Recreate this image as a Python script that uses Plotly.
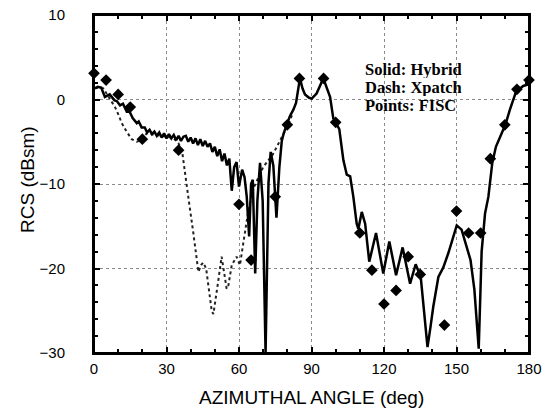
import plotly.graph_objects as go

# Hybrid (solid)
hyb_ang = [0.4, 1.5, 3.0, 4.5, 6.5, 8.5, 9.5, 10.8, 12.0, 13.5, 14.5, 16.0, 17.7, 18.5, 19.7,
           21.0, 22.0, 23.0, 24.0, 25.0, 26.0, 27.0, 28.0, 29.0, 30.0, 31.0, 32.0, 33.0, 34.0,
           35.0, 36.0, 37.0, 38.0, 39.0, 40.0, 41.0, 42.0, 43.0, 44.0, 45.0, 46.0, 47.0, 48.0,
           49.0, 50.0, 51.0, 52.0, 53.0, 54.0, 55.0, 56.0, 57.0, 58.0, 59.0, 60.0, 61.3, 62.3,
           63.2, 64.2, 65.0, 65.7, 66.7, 67.6, 68.7, 69.8, 71.0, 72.2, 73.1, 74.2, 75.5, 76.7,
           77.7, 78.5, 79.7, 81.0, 82.5, 83.6, 85.2, 86.3, 87.3, 89.0, 90.1, 92.1, 94.9, 96.5,
           97.7, 99.0, 100.5, 101.5, 103.2, 104.6, 106.0, 107.3, 108.7, 109.4, 110.8, 112.2,
           113.9, 116.7, 119.7, 122.2, 125.0, 127.7, 130.8, 133.1, 135.2, 136.6, 138.0, 139.2,
           140.4, 142.5, 144.5, 146.6, 148.5, 150.1, 152.1, 154.2, 155.8, 157.4, 158.6, 159.2,
           160.4, 161.8, 163.2, 164.8, 166.3, 168.0, 170.2, 172.1, 174.6, 177.6, 180.0]
hyb_val = [1.3, 1.5, 1.4, 0.3, 0.6, -0.1, -0.2, -0.7, -0.5, -1.4, -1.3, -2.2, -2.8, -2.6, -3.3,
           -3.3, -3.9, -3.6, -4.1, -3.8, -4.3, -3.9, -4.5, -4.0, -4.6, -4.1, -4.6, -4.2, -4.8,
           -4.3, -4.9, -4.4, -4.3, -5.0, -4.5, -5.2, -4.6, -5.4, -4.7, -5.5, -4.9, -5.6, -5.2,
           -6.2, -5.6, -6.7, -5.9, -7.3, -6.4, -7.8, -7.0, -10.8, -8.0, -7.4, -10.3, -8.3, -9.2,
           -11.5, -16.2, -10.0, -9.5, -20.6, -12.0, -7.5, -12.0, -30.0, -9.9, -6.2, -7.8, -14.0, -8.0,
           -4.9, -4.0, -3.1, -2.0, -1.2, -0.4, 2.5, 1.3, 0.6, 0.2, 0.1, 0.7, 2.5, 1.2,
           0.3, -2.2, -2.9, -3.5, -7.2, -8.9, -9.1, -11.5, -14.7, -15.3, -13.3, -14.7,
           -19.2, -15.8, -20.6, -16.8, -20.8, -17.5, -21.8, -19.5, -21.0, -25.0, -29.3, -27.0,
           -24.5, -21.0, -19.9, -18.2, -16.3, -14.9, -15.4, -17.4, -19.0, -22.5, -26.9, -29.5,
           -18.0, -13.5, -11.5, -7.5, -5.6, -4.4, -3.0, -1.2, 0.9, 1.6, 1.8]

# Xpatch (dash)
xp_ang = [0.4, 2.0, 3.9, 5.3, 6.6, 8.7, 10.1, 11.5, 13.5, 15.6, 17.7, 19.7, 21.8, 24.0, 27.0,
          30.0, 33.0, 35.0, 36.5, 37.7, 39.0, 41.1, 43.2, 44.3, 45.2, 46.4, 47.5, 48.7, 49.4,
          50.5, 51.4, 52.8, 53.8, 54.9, 55.6, 57.0, 59.0, 60.4, 61.5, 62.5, 63.8, 66.0, 70.0,
          74.0, 77.0, 80.0, 82.0]
xp_val = [1.4, 1.4, 1.3, 0.7, 0.1, -0.9, -1.8, -2.8, -3.8, -4.7, -5.0, -4.8, -4.0, -4.1, -4.2,
          -4.4, -4.6, -5.2, -6.2, -8.5, -11.5, -15.8, -20.4, -19.6, -19.3, -20.0, -22.5, -25.0, -25.4,
          -23.5, -21.5, -18.6, -20.5, -22.4, -22.0, -19.6, -18.6, -19.6, -17.5, -15.8, -13.3, -10.5, -8.0,
          -6.5, -4.9, -3.2, -1.8]

# FISC (points)
fisc_ang = [0, 5, 10, 15, 20, 35, 60, 65, 75, 80, 85, 95, 100, 110, 115, 120, 125, 130, 135,
            145, 150, 155, 160, 164, 170, 175, 180]
fisc_val = [3.1, 2.3, 0.6, -0.9, -4.7, -6.0, -12.4, -19.0, -11.5, -3.0, 2.5, 2.5, -2.7, -15.8,
            -20.2, -24.2, -22.6, -18.6, -20.7, -26.7, -13.2, -15.8, -15.8, -7.0, -3.0, 1.2, 2.3]

x_ticks = [0, 30, 60, 90, 120, 150, 180]
y_ticks = [-30, -20, -10, 0, 10]
legend_lines = ["Solid: Hybrid", "Dash: Xpatch", "Points: FISC"]

fig = go.Figure()
fig.add_trace(go.Scatter(x=xp_ang, y=xp_val, mode="lines",
                         line=dict(color="#222", width=2, dash="dot"), showlegend=False))
fig.add_trace(go.Scatter(x=hyb_ang, y=hyb_val, mode="lines",
                         line=dict(color="black", width=2.5), showlegend=False))
fig.add_trace(go.Scatter(x=fisc_ang, y=fisc_val, mode="markers",
                         marker=dict(symbol="diamond", size=9, color="black"), showlegend=False,
                         cliponaxis=False))

axis_common = dict(showline=True, linecolor="black", linewidth=2, mirror="ticks",
                   ticks="inside", ticklen=6, tickwidth=1.5, tickcolor="black",
                   showgrid=True, gridcolor="#8a8a8a", gridwidth=1, griddash="dot",
                   zeroline=False, automargin=False, ticklabeloverflow="allow",
                   tickfont=dict(family="Liberation Sans, Arial", size=15, color="black"))

fig.update_xaxes(range=[0, 180], tickvals=x_ticks, ticklabelstandoff=1,
                 minor=dict(dtick=10, ticks="inside", ticklen=4, tickcolor="black", showgrid=False),
                 **axis_common)
fig.update_yaxes(range=[-30, 10], tickvals=y_ticks, ticklabelstandoff=24,
                 minor=dict(dtick=2, ticks="inside", ticklen=4, tickcolor="black", showgrid=False),
                 **axis_common)

annotations = [
    dict(text="AZIMUTHAL ANGLE (deg)", xref="paper", yref="paper", x=0.499, y=(353 - 398) / 338,
         xanchor="center", yanchor="middle", showarrow=False,
         font=dict(family="Liberation Sans, Arial", size=19, color="black")),
    dict(text="RCS (dBsm)", xref="paper", yref="paper", x=(27 - 94) / 435, y=(353 - 180) / 338,
         textangle=-90, xanchor="center", yanchor="middle", showarrow=False,
         font=dict(family="Liberation Sans, Arial", size=19, color="black")),
]
for i, line in enumerate(legend_lines):
    annotations.append(dict(text="<b>" + line + "</b>", xref="paper", yref="paper",
                            x=(363 - 94) / 435, y=(353 - (69.5 + 17.8 * i)) / 338,
                            xanchor="left", yanchor="middle", align="left", showarrow=False,
                            height=17, valign="middle",
                            font=dict(family="Liberation Serif, Times New Roman", size=16.5,
                                      color="black")))

fig.update_layout(
    template="none",
    width=544, height=412, autosize=False,
    margin=dict(l=94, r=15, t=15, b=59),
    paper_bgcolor="white", plot_bgcolor="white",
    annotations=annotations,
    shapes=[dict(type="rect", xref="paper", yref="paper", x0=0, y0=0, x1=1, y1=1,
                 line=dict(color="black", width=2), layer="above")],
)

# remove the default 8px page margin so the figure sits at the window's top-left corner
fig.write_html("out.html", config={"displayModeBar": False},
               post_script="document.body.style.margin='0';")
